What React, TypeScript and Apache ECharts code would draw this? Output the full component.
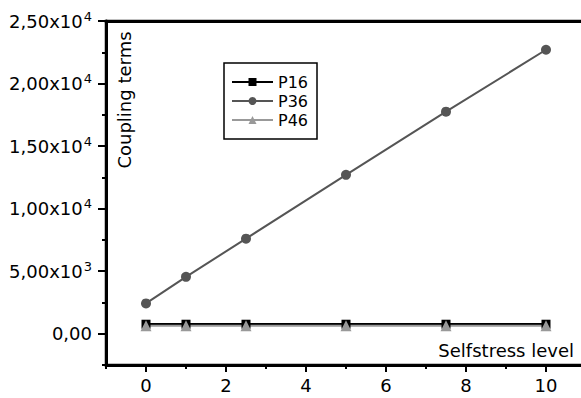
import React, { useEffect, useRef } from "react";
import * as echarts from "echarts";

const seriesNames = ["P16", "P36", "P46"];
const xValues = [0, 1, 2.5, 5, 7.5, 10];
const p16 = [760, 760, 760, 760, 760, 760];
const p36 = [2420, 4550, 7600, 12700, 17750, 22700];
const p46 = [640, 640, 640, 640, 640, 640];
const xMajorTicks = [0, 2, 4, 6, 8, 10];
const xMinorTicks = [-1, 1, 3, 5, 7, 9];
const yMajorTicks = [0, 5000, 10000, 15000, 20000, 25000];
const yAxisTitle = "Coupling terms";
const xAxisTitle = "Selfstress level";

const FONT = "DejaVu Sans";
const X_MIN = -1;
const X_MAX = 10.95;

function yLabel(v: number): string {
  if (v === 0) return "{m|0,00}";
  const exp = Math.floor(Math.log10(v) + 1e-9);
  const mant = v / Math.pow(10, exp);
  return `{m|${mant.toFixed(2).replace(".", ",")}x10}{s|${exp}}`;
}

const mkLine = (w: number) => ({ show: true, onZero: false, lineStyle: { color: "#000", width: w } });
const noLine = () => ({ show: false, onZero: false });

export default function App() {
  const ref = useRef<HTMLDivElement>(null);
  useEffect(() => {
    document.body.style.margin = "0";
    const chart = echarts.init(ref.current!, null, { renderer: "svg" });
    chart.setOption({
      animation: false,
      backgroundColor: "#fff",
      grid: {
        left: 106,
        right: 0,
        top: 21,
        bottom: 33,
        show: true,
        borderColor: "#000",
        borderWidth: 2.5,
        backgroundColor: "transparent",
      },
      xAxis: [
        {
          type: "value",
          position: "bottom",
          min: X_MIN,
          max: X_MAX,
          axisLine: mkLine(3),
          splitLine: { show: false },
          axisTick: { show: true, customValues: xMajorTicks, length: 7, lineStyle: { color: "#000", width: 2 } },
          axisLabel: {
            show: true,
            customValues: xMajorTicks,
            margin: 11,
            color: "#000",
            fontFamily: FONT,
            fontSize: 18,
          },
        },
        {
          type: "value",
          position: "bottom",
          min: X_MIN,
          max: X_MAX,
          axisLine: noLine(),
          splitLine: { show: false },
          axisTick: { show: true, customValues: xMinorTicks, length: 4, lineStyle: { color: "#000", width: 2 } },
          axisLabel: { show: false },
        },
        {
          type: "value",
          position: "top",
          min: X_MIN,
          max: X_MAX,
          axisLine: mkLine(3),
          splitLine: { show: false },
          axisTick: { show: false },
          axisLabel: { show: false },
        },
      ],
      yAxis: [
        {
          type: "value",
          position: "left",
          min: -2500,
          max: 25000,
          axisLine: mkLine(3),
          splitLine: { show: false },
          axisTick: { show: true, customValues: yMajorTicks, length: 8, lineStyle: { color: "#000", width: 2 } },
          axisLabel: {
            show: true,
            customValues: yMajorTicks,
            margin: 14,
            formatter: yLabel,
            rich: {
              m: { color: "#000", fontFamily: FONT, fontSize: 18 },
              s: { color: "#000", fontFamily: FONT, fontSize: 13, padding: [0, 0, 10, 1] },
            },
          },
        },
        {
          type: "value",
          position: "left",
          min: -2500,
          max: 25000,
          interval: 2500,
          axisLine: noLine(),
          splitLine: { show: false },
          axisTick: { show: true, length: 4, lineStyle: { color: "#000", width: 2 } },
          axisLabel: { show: false },
        },
      ],
      legend: {
        show: true,
        orient: "vertical",
        left: 224,
        top: 63,
        padding: [10, 9, 10, 7],
        itemGap: 1,
        itemWidth: 41,
        itemHeight: 10,
        borderColor: "#000",
        borderWidth: 1.5,
        data: seriesNames,
        lineStyle: { width: 2 },
        textStyle: { color: "#000", fontFamily: FONT, fontSize: 16, lineHeight: 18 },
      },
      graphic: [
        {
          type: "text",
          x: 124,
          y: 100,
          rotation: Math.PI / 2,
          style: {
            text: yAxisTitle,
            fill: "#000",
            font: `18px "${FONT}"`,
            align: "center",
            verticalAlign: "middle",
          },
        },
        {
          type: "text",
          x: 574,
          y: 350,
          style: {
            text: xAxisTitle,
            fill: "#000",
            font: `18px "${FONT}"`,
            align: "right",
            verticalAlign: "middle",
          },
        },
      ],
      series: [
        {
          name: seriesNames[0],
          type: "line",
          data: xValues.map((x, i) => [x, p16[i]]),
          symbol: "rect",
          symbolSize: 9,
          itemStyle: { color: "#000" },
          lineStyle: { color: "#000", width: 2.5 },
        },
        {
          name: seriesNames[1],
          type: "line",
          data: xValues.map((x, i) => [x, p36[i]]),
          symbol: "circle",
          symbolSize: 10,
          itemStyle: { color: "#555" },
          lineStyle: { color: "#555", width: 2 },
        },
        {
          name: seriesNames[2],
          type: "line",
          data: xValues.map((x, i) => [x, p46[i]]),
          symbol: "triangle",
          symbolSize: 11,
          itemStyle: { color: "#999" },
          lineStyle: { color: "#999", width: 2 },
        },
      ],
    });
    return () => chart.dispose();
  }, []);
  return (
    <div style={{ width: 581, height: 398, overflow: "hidden" }}>
      <div ref={ref} style={{ width: 584, height: 398 }} />
    </div>
  );
}
